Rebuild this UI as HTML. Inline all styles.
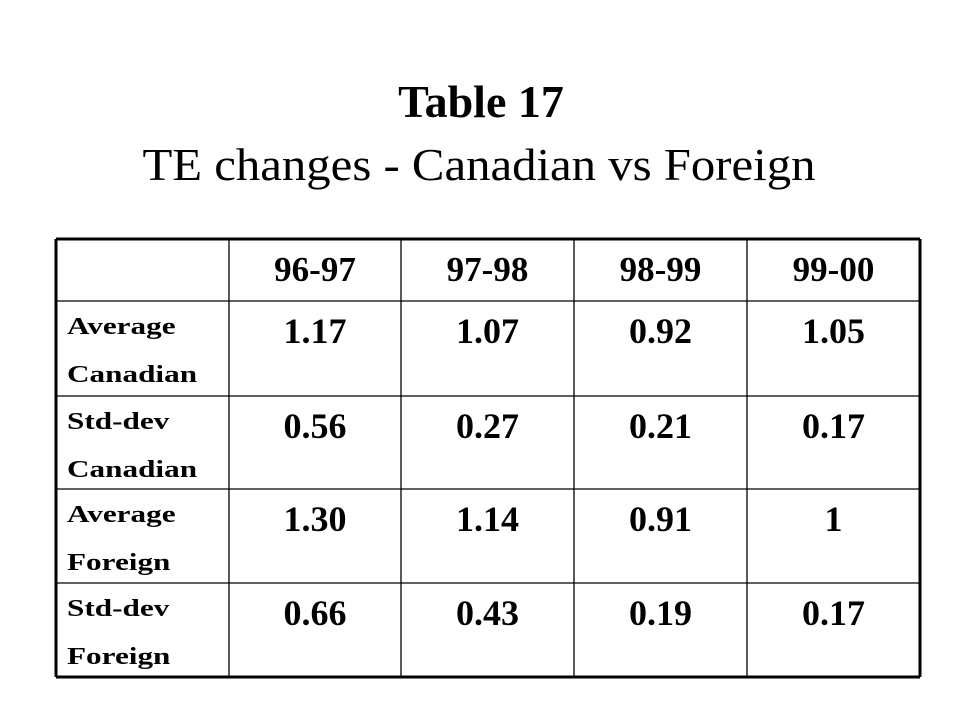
<!DOCTYPE html>
<html><head><meta charset="utf-8"><style>
body{margin:0;background:#fff;width:960px;height:720px;overflow:hidden}
text{font-family:"Liberation Serif",serif}
</style></head><body>
<svg width="960" height="720">
<text id="t1" x="481" y="117" text-anchor="middle" font-size="46" font-weight="bold">Table 17</text>
<text id="t2" x="479" y="180" text-anchor="middle" font-size="46">TE changes - Canadian vs Foreign</text>
<g id="grid"></g>
<g id="cells"></g>
</svg>
<script>
const periods=["96-97","97-98","98-99","99-00"];
const rowLabels=[["Average","Canadian"],["Std-dev","Canadian"],["Average","Foreign"],["Std-dev","Foreign"]];
const avgCanadian=["1.17","1.07","0.92","1.05"];
const stdCanadian=["0.56","0.27","0.21","0.17"];
const avgForeign=["1.30","1.14","0.91","1"];
const stdForeign=["0.66","0.43","0.19","0.17"];
const rows=[avgCanadian,stdCanadian,avgForeign,stdForeign];
const NS="http://www.w3.org/2000/svg";
const xs=[56,229,401,574,747,920];
const ys=[239,301,396,489,583,677];
const grid=document.getElementById('grid'),cells=document.getElementById('cells');
function ln(x1,y1,x2,y2,w){const l=document.createElementNS(NS,'line');
l.setAttribute('x1',x1);l.setAttribute('y1',y1);l.setAttribute('x2',x2);l.setAttribute('y2',y2);
l.setAttribute('stroke','#000');l.setAttribute('stroke-width',w);


grid.appendChild(l);}
xs.forEach((x,i)=>ln(x,ys[0],x,ys[5],(i==0||i==5)?3:1.3));
ys.forEach((y,i)=>ln(xs[0],y,xs[5],y,(i==0||i==5)?3:1.3));
function stretch(t,f){const w=t.getComputedTextLength();t.setAttribute('textLength',w*f);t.setAttribute('lengthAdjust','spacingAndGlyphs');}
function tx(s,x,y,size,anchor,name,f){const t=document.createElementNS(NS,'text');
t.setAttribute('x',x);t.setAttribute('y',y);t.setAttribute('font-size',size);t.setAttribute('font-weight','bold');
t.setAttribute('text-anchor',anchor);t.textContent=s;


cells.appendChild(t);if(f)stretch(t,f);}
stretch(document.getElementById('t2'),1.06);
periods.forEach((p,i)=>tx(p,(xs[i+1]+xs[i+2])/2,ys[0]+42,35,'middle','column-header'));
rowLabels.forEach((lb,r)=>{
tx(lb[0],xs[0]+11,ys[r+1]+33,24,'start','row-label',1.3);
tx(lb[1],xs[0]+11,ys[r+1]+81,24,'start','row-label',1.3);
rows[r].forEach((v,i)=>tx(v,(xs[i+1]+xs[i+2])/2,ys[r+1]+42,36,'middle','value-cell'));
});
</script>
</body></html>
